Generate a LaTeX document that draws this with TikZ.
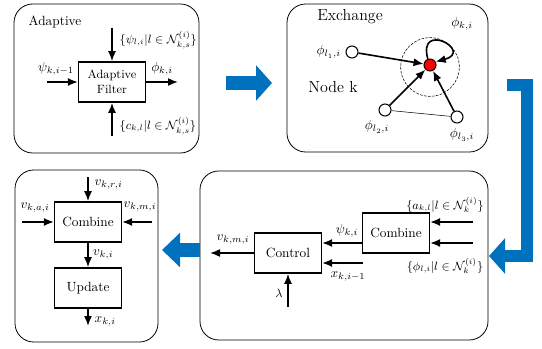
\documentclass[tikz,border=0pt]{standalone}
\usepackage{amsmath,amssymb}
\usetikzlibrary{arrows.meta}
\definecolor{flowblue}{RGB}{0,114,189}
\tikzset{
  panel/.style={draw, semithick, rounded corners=14pt},
  blk/.style={draw, very thick, minimum width=50pt, minimum height=30pt, inner sep=2pt},
  sig/.style={-{Latex[length=7.5pt,width=6pt]}, very thick},
  agent/.style={circle, draw, thick, fill=white, minimum size=9pt, inner sep=0pt},
  bigarrow/.style={flowblue, line width=10pt, -{Triangle[length=12pt,width=26pt]}},
}
\begin{document}
\begin{tikzpicture}[x=0.75pt,y=-0.75pt]
\useasboundingbox (0,0) rectangle (542,349);

% panels
\draw[panel] (14,4) rectangle (199,153);
\draw[panel] (287,4) rectangle (488,152);
\draw[panel] (15,170) rectangle (158,342);
\draw[panel] (200,171) rectangle (488,340);

% adaptive
\node (adtitle) at (55,22) {Adaptive};
\node[blk, font=\small, align=center] (af) at (112,82) {Adaptive\\Filter};
\coordinate (afin) at (47,82);
\coordinate (afout) at (178,82);
\coordinate (aftop) at (112,28);
\coordinate (afbot) at (112,136);
\draw[sig] (aftop) -- (af.north);
\draw[sig] (afbot) -- (af.south);
\draw[sig] (afin) -- (af.west);
\draw[sig] (af.east) -- (afout);
\node[anchor=west, font=\small] (psiset) at (115,40) {$\{\psi_{l,i}|l\in\mathcal{N}^{(i)}_{k,s}\}$};
\node[anchor=west, font=\small] (cset) at (115,126) {$\{c_{k,l}|l\in\mathcal{N}^{(i)}_{k,s}\}$};
\node (psiin) at (56,69) {$\psi_{k,i-1}$};
\node (phiout) at (162,69) {$\phi_{k,i}$};

% exchange
\node[font=\large] (extitle) at (350,17) {Exchange};
\node[font=\large] (nodek) at (333,87) {Node k};
\node[circle, draw, dashed, dash pattern=on 2pt off 1pt, minimum size=44pt] (nbhd) at (430,67) {};
\node[agent, fill=red] (k) at (430,65) {};
\node[agent] (l1) at (352,52) {};
\node[agent] (l2) at (385,110) {};
\node[agent] (l3) at (457,117) {};
\node[left] (l1l) at (l1.west) {$\phi_{l_1,i}$};
\node (l2l) at (377,127) {$\phi_{l_2,i}$};
\node (l3l) at (462,135) {$\phi_{l_3,i}$};
\node (phik) at (462,24) {$\phi_{k,i}$};
\draw (l2) -- (l3);
\draw[sig] (l1) -- (k);
\draw[sig] (l2) -- (k);
\draw[sig] (l3) -- (k);
\draw[sig] (k.110) .. controls +(-105:40) and +(-15:40) .. (k.30);

% update
\node[blk] (cmb1) at (88,222) {Combine};
\node[blk] (upd) at (88,288) {Update};
\coordinate (vr) at (88,177);
\coordinate (va) at (22,222);
\coordinate (vm) at (152,222);
\coordinate (xout) at (88,326);
\draw[sig] (vr) -- (cmb1.north);
\draw[sig] (va) -- (cmb1.west);
\draw[sig] (vm) -- (cmb1.east);
\draw[sig] (cmb1.south) -- node[right] {$v_{k,i}$} (upd.north);
\draw[sig] (upd.south) -- (xout);
\node[anchor=west] (vrl) at (90,185) {$v_{k,r,i}$};
\node (val) at (35,208) {$v_{k,a,i}$};
\node (vml) at (140,207) {$v_{k,m,i}$};
\node[anchor=west] (xl) at (90,322) {$x_{k,i}$};

% combine and control
\node[blk] (cmb2) at (396,233) {Combine};
\node[blk] (ctl) at (288,253) {Control};
\coordinate (ain) at (473,222);
\coordinate (phin) at (473,243);
\coordinate (xin) at (363,263);
\coordinate (vout) at (210,253);
\coordinate (lam) at (288,307);
\draw[sig] (ain) -- (ain -| cmb2.east);
\draw[sig] (phin) -- (phin -| cmb2.east);
\draw[sig] ([yshift=-7.5pt]cmb2.west) -- ([yshift=-7.5pt]cmb2.west -| ctl.east);
\draw[sig] (xin) -- (xin -| ctl.east);
\draw[sig] (ctl.west) -- (vout);
\draw[sig] (lam) -- (ctl.south);
\node[font=\small] (aset) at (445,205) {$\{a_{k,l}|l\in\mathcal{N}^{(i)}_{k}\}$};
\node[font=\small] (phiset) at (445,266) {$\{\phi_{l,i}|l\in\mathcal{N}^{(i)}_{k}\}$};
\node (psil) at (347,231) {$\psi_{k,i}$};
\node (xil) at (348,277) {$x_{k,i-1}$};
\node (vmo) at (233,240) {$v_{k,m,i}$};
\node[font=\small] (laml) at (279,293) {$\lambda$};

% flow
\draw[bigarrow] (226,83) -- (272,83);
\draw[bigarrow, line width=9pt] (507,85) -- (527,85) -- (527,256) -- (489,256);
\draw[bigarrow, -{Triangle[length=13.5pt,width=25pt]}] (200,250) -- (162,250);
\end{tikzpicture}
\end{document}
